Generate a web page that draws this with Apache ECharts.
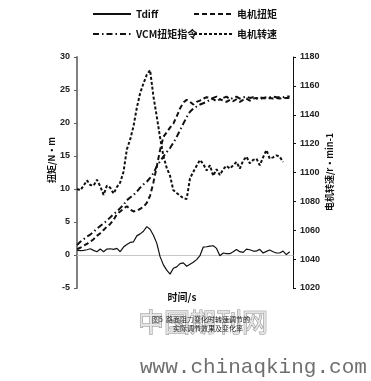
<!DOCTYPE html>
<html><head><meta charset="utf-8">
<script src="https://cdn.jsdelivr.net/npm/echarts@6/dist/echarts.min.js"></script>
<style>html,body{margin:0;padding:0;background:#fff}#c{width:371px;height:381px}</style>
</head><body><div id="c"></div>
<script>
var seriesNames = ['Tdiff', '电机扭矩', 'VCM扭矩指令', '电机转速'];
var leftTicks = [-5, 0, 5, 10, 15, 20, 25, 30];
var rightTicks = [1020, 1040, 1060, 1080, 1100, 1120, 1140, 1160, 1180];
var tdiff = [0.75,0.65,0.7,0.8,0.95,0.7,0.5,0.9,0.5,0.9,0.95,0.85,1.0,0.5,1.2,1.6,1.9,2.0,2.9,3.2,3.6,4.3,3.9,3.0,1.8,-0.25,-1.5,-2.3,-2.9,-2.0,-1.8,-1.3,-1.2,-1.7,-1.4,-1.1,-0.7,-0.1,1.2,1.25,1.35,1.4,1.0,-0.1,0.3,0.2,0.2,0.5,0.85,0.5,0.4,0.9,0.8,0.6,0.6,0.85,0.3,0.55,0.75,0.5,0.3,0.3,0.6,0.05,0.5];
var motorTorque = [0.9,1.1,1.4,1.7,2.0,2.4,2.9,3.3,3.8,4.3,4.7,5.3,6.2,6.6,7.0,7.4,6.9,6.6,6.7,7.0,7.3,7.9,9.0,11.0,13.4,15.9,17.9,18.6,19.3,19.9,21.0,22.2,23.1,23.5,23.2,22.8,23.2,23.4,23.7,23.9,23.8,23.6,23.3,23.6,23.4,23.2,23.5,23.3,23.6,23.2,23.5,23.7,23.4,23.7,23.8,23.6,23.8,23.7,23.8,23.7,23.8,23.7,23.8,23.8,23.8];
var vcmCmd = [1.5,2.0,2.4,2.8,3.1,3.5,4.0,4.4,4.8,5.2,5.7,6.2,6.6,7.1,7.6,8.3,8.7,9.1,9.6,10.2,10.7,11.1,11.7,12.4,13.4,14.2,14.9,15.6,16.2,17.0,17.9,18.9,19.9,20.9,21.7,22.2,22.5,22.8,23.0,23.2,23.5,23.8,24.0,23.6,23.8,24.0,23.6,23.8,24.0,23.7,23.9,24.0,23.8,23.9,23.7,23.9,23.8,23.9,23.9,24.0,23.9,23.9,23.9,24.0,24.0];
var motorSpeed = [1088.6,1087.7,1090.9,1094.5,1091.3,1090.9,1095.0,1090.4,1084.5,1090.9,1089.5,1085.4,1089.9,1093.1,1100.5,1116.0,1122.9,1132.0,1144.8,1154.9,1161.7,1167.7,1170.9,1152.6,1138.9,1124.2,1111.4,1103.2,1097.7,1087.7,1085.8,1084.0,1082.2,1081.7,1095.9,1100.5,1104.6,1108.7,1105.9,1101.4,1105.0,1097.7,1102.3,1098.2,1102.3,1104.6,1102.7,1105.0,1107.3,1102.7,1108.2,1111.0,1106.4,1108.7,1109.6,1105.0,1110.5,1115.5,1109.6,1110.5,1111.9,1111.0,1107.3];

function pairs(arr){ return arr.map(function(v,i){ return [i, v]; }); }

var chart = echarts.init(document.getElementById('c'), null, {renderer:'canvas'});
var cjk = '"Noto Sans CJK SC", "Liberation Sans", sans-serif';
var legendText = {fontFamily: cjk, fontSize: 10, color: '#111', fontWeight: 'bold'};
function legend(name, left, top){
  return {data:[name], left:left, top:top, padding:0, itemWidth:38, itemHeight:10, itemGap:0,
          textStyle: legendText, selectedMode:false, itemStyle:{opacity:0}};
}
chart.setOption({
  animation:false,
  backgroundColor:'#fff',
  color:['#111','#111','#111','#111'],
  grid:{left:77, right:78, top:57, bottom:93},
  legend:[
    legend(seriesNames[0], 92, 9),
    legend(seriesNames[1], 193, 9),
    legend(seriesNames[2], 92, 29),
    legend(seriesNames[3], 193, 29)
  ],
  xAxis:{type:'value', min:0, max:65, axisLabel:{show:false}, axisTick:{show:false}, splitLine:{show:false},
         axisLine:{show:true, onZero:true, lineStyle:{color:'#c8c8c8', width:1}}},
  yAxis:[
    {type:'value', min:leftTicks[0], max:leftTicks[leftTicks.length-1], interval:5, splitLine:{show:false},
     axisLine:{show:true, onZero:false, lineStyle:{color:'#808080', width:2}},
     axisTick:{show:true, length:3, lineStyle:{color:'#606060'}},
     axisLabel:{margin:7, fontSize:9, color:'#222', fontFamily:'"Liberation Sans", sans-serif', fontWeight:'bold'}},
    {type:'value', min:rightTicks[0], max:rightTicks[rightTicks.length-1], interval:20, splitLine:{show:false},
     axisLine:{show:true, onZero:false, lineStyle:{color:'#111', width:1}},
     axisTick:{show:true, length:3, lineStyle:{color:'#111'}},
     axisLabel:{margin:7, fontSize:9, color:'#222', fontFamily:'"Liberation Sans", sans-serif', fontWeight:'bold',
                formatter:function(v){ return String(v); }}}
  ],
  graphic:[
    {type:'text', x:52, y:160, rotation:Math.PI/2, style:{text:'扭矩/N·m', font:'bold 9px "Noto Sans CJK SC"', fill:'#111', align:'center', verticalAlign:'middle'}},
    {type:'text', x:330, y:172, rotation:Math.PI/2, style:{text:'电机转速/r·min-1', font:'bold 9px "Noto Sans CJK SC"', fill:'#111', align:'center', verticalAlign:'middle'}},
    {type:'text', x:182, y:297, style:{text:'时间/s', font:'bold 10px "Noto Sans CJK SC"', fill:'#111', align:'center', verticalAlign:'middle'}},
    {type:'text', x:203, y:322, style:{text:'中国期刊网', font:'26px "Noto Sans CJK SC"', fill:'#e4e4e4', stroke:'#8c8c8c', lineWidth:1, align:'center', verticalAlign:'middle'}},
    {type:'text', x:201, y:319, style:{text:'图5  路面阻力变化时转速调节的', font:'7px "Noto Sans CJK SC"', fill:'#222', align:'center', verticalAlign:'middle'}},
    {type:'text', x:208, y:328, style:{text:'实际调节效果及变化率', font:'7px "Noto Sans CJK SC"', fill:'#222', align:'center', verticalAlign:'middle'}},
    {type:'text', x:140, y:367, style:{text:'www.chinaqking.com', font:'21px "Liberation Mono", "DejaVu Sans Mono", monospace', fill:'#707070', align:'left', verticalAlign:'middle'}}
  ],
  series:[
    {name:seriesNames[0], type:'line', yAxisIndex:0, data:pairs(tdiff), symbol:'none', lineStyle:{color:'#111', width:1.2, type:'solid'}},
    {name:seriesNames[1], type:'line', yAxisIndex:0, data:pairs(motorTorque), symbol:'none', lineStyle:{color:'#111', width:2, type:[5,3]}},
    {name:seriesNames[2], type:'line', yAxisIndex:0, data:pairs(vcmCmd), symbol:'none', lineStyle:{color:'#111', width:2, type:[6,3,1.5,3]}},
    {name:seriesNames[3], type:'line', yAxisIndex:1, data:pairs(motorSpeed), symbol:'none', lineStyle:{color:'#111', width:2, type:[3,2]}}
  ]
});
</script></body></html>
